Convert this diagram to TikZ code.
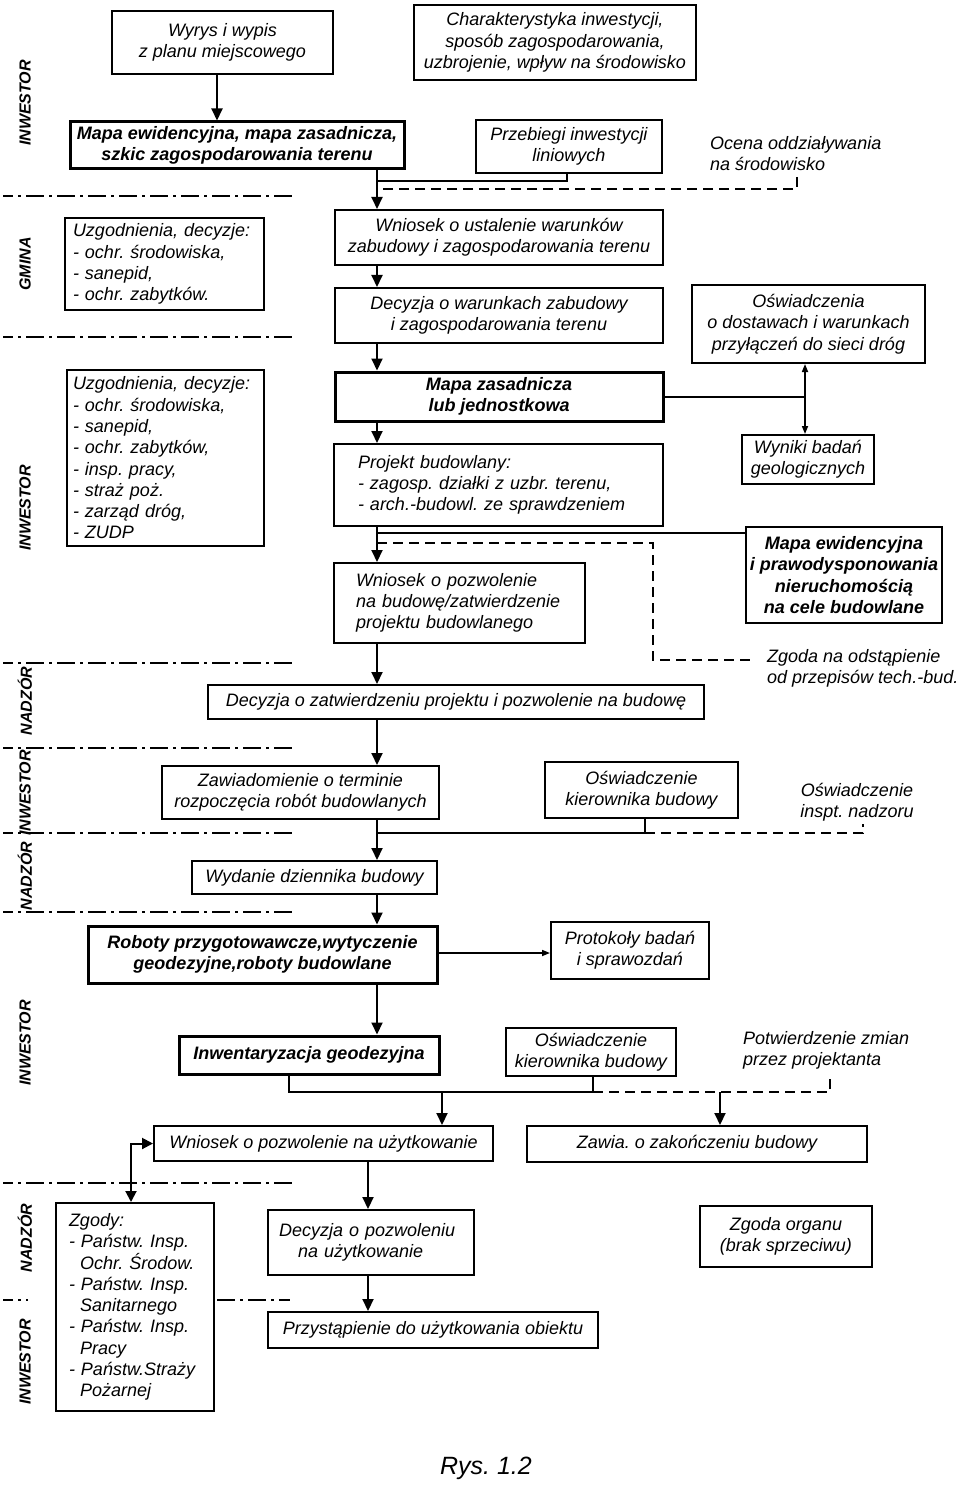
\documentclass[tikz,border=0pt]{standalone}
\usepackage{fontspec}
\setmainfont{Liberation Sans}
\usetikzlibrary{arrows.meta}
\newcommand\myfs{\fontsize{18}{21.3}\selectfont}
\frenchspacing
\begin{document}
\begin{tikzpicture}[x=1pt,y=-1pt,
  box/.style={draw, line width=2pt, inner sep=0pt, align=center, font=\myfs\itshape},
  bbox/.style={box, line width=3pt, font=\myfs\bfseries\itshape},
  txt/.style={inner sep=0pt, align=left, font=\myfs\itshape},
  lane/.style={rotate=90, inner sep=0pt, font=\fontsize{16}{16}\selectfont\bfseries\itshape},
  conn/.style={line width=2pt},
  arr/.style={conn, -{Triangle[width=11pt,length=12pt]}},
  smallarr/.style={line width=1.6pt, -{Triangle[width=6pt,length=8pt]}},
  dblsmall/.style={line width=1.6pt, {Triangle[width=6pt,length=8pt]}-{Triangle[width=6pt,length=8pt]}},
  dblarr/.style={conn, {Triangle[width=11pt,length=11pt]}-{Triangle[width=11pt,length=11pt]}},
  dline/.style={line width=2pt, dash pattern=on 10pt off 6pt},
  lanesep/.style={line width=2.8pt, dash pattern=on 18pt off 5pt on 3pt off 5pt, dash phase=8pt}
]
\fill[white] (0,0) rectangle (960,1487);
\useasboundingbox (0,0) rectangle (960,1487);

% lane separators
\foreach \yy in {196,337,663,748,833,912,1183}{
  \draw[lanesep] (3,\yy) -- (295,\yy);
}
\draw[lanesep] (3,1300) -- (28,1300);
\draw[lanesep, dash phase=0pt] (217,1300) -- (290,1300);

% lane labels
\node[lane] (l1) at (25,103) {INWESTOR};
\node[lane] (l2) at (25,264) {GMINA};
\node[lane] (l3) at (25,508) {INWESTOR};
\node[lane] (l4) at (25,701) {NADZÓR};
\node[lane] (l5) at (25,793) {INWESTOR};
\node[lane] (l6) at (25,876) {NADZÓR};
\node[lane] (l7) at (25,1043) {INWESTOR};
\node[lane] (l8) at (25,1238) {NADZÓR};
\node[lane] (l9) at (25,1362) {INWESTOR};

% nodes
\node[box, minimum width=221pt, minimum height=63pt] (wyrys) at (222.5,42.5) {Wyrys i wypis\\ z planu miejscowego};
\node[bbox, minimum width=334pt, minimum height=47pt] (mapaew) at (237,145.5) {Mapa ewidencyjna, mapa zasadnicza,\\ szkic zagospodarowania terenu};
\node[box, minimum width=282pt, minimum height=75pt] (charakt) at (555,42.5) {Charakterystyka inwestycji,\\ sposób zagospodarowania,\\ uzbrojenie, wpływ na środowisko};
\node[box, minimum width=186pt, minimum height=53pt] (przeb) at (569,146.5) {Przebiegi inwestycji\\ liniowych};
\node[txt, anchor=west] (ocena) at (710,153.5) {Ocena oddziaływania\\ na środowisko};
\node[box, minimum width=328pt, minimum height=55pt] (wniosek1) at (499,237.5) {Wniosek o ustalenie warunków\\ zabudowy i zagospodarowania terenu};
\node[box, minimum width=328pt, minimum height=55pt] (decyzja1) at (499,315.5) {Decyzja o warunkach zabudowy\\ i zagospodarowania terenu};
\node[box, minimum width=233pt, minimum height=78pt] (oswiad1) at (808.5,324) {Oświadczenia\\ o dostawach i warunkach\\ przyłączeń do sieci dróg};
\node[box, align=left, inner xsep=8pt, text width=183pt, minimum height=92pt] (uzg1) at (164.5,264) {Uzgodnienia, decyzje:\\ - ochr. środowiska,\\ - sanepid,\\ - ochr. zabytków.};
\node[bbox, minimum width=328pt, minimum height=49pt] (mapazas) at (499,396.5) {Mapa zasadnicza\\ lub jednostkowa};
\node[box, minimum width=132pt, minimum height=49pt] (wyniki) at (808,459.5) {Wyniki badań\\ geologicznych};
\node[box, align=left, inner xsep=6pt, text width=185pt, minimum height=176pt] (uzg2) at (165.5,458) {Uzgodnienia, decyzje:\\ - ochr. środowiska,\\ - sanepid,\\ - ochr. zabytków,\\ - insp. pracy,\\ - straż poż.\\ - zarząd dróg,\\ - ZUDP};
\node[box, align=left, inner xsep=24pt, text width=281pt, minimum height=82pt] (projekt) at (498.5,485) {Projekt budowlany:\\ - zagosp. działki z uzbr. terenu,\\ - arch.-budowl. ze sprawdzeniem};
\node[bbox, line width=2.5pt, minimum width=196pt, minimum height=96pt] (mapaew2) at (844,575) {Mapa ewidencyjna\\ i prawodysponowania\\ nieruchomością\\ na cele budowlane};
\node[box, align=left, inner xsep=22pt, text width=207pt, minimum height=80pt] (wniosek2) at (459.5,603) {Wniosek o pozwolenie\\ na budowę/zatwierdzenie\\ projektu budowlanego};
\node[txt, anchor=west] (zgoda) at (767,668) {Zgoda na odstąpienie\\ od przepisów tech.-bud.};
\node[box, minimum width=496pt, minimum height=34pt] (decyzja2) at (456,702) {Decyzja o zatwierdzeniu projektu i pozwolenie na budowę};
\node[box, minimum width=277pt, minimum height=53pt] (zawiad) at (300.5,792.5) {Zawiadomienie o terminie\\ rozpoczęcia robót budowlanych};
\node[box, minimum width=193pt, minimum height=56pt] (oswkier1) at (641.5,790) {Oświadczenie\\ kierownika budowy};
\node[txt, align=center] (insp) at (857,802.5) {Oświadczenie\\ inspt. nadzoru};
\node[box, minimum width=245pt, minimum height=33pt] (wydanie) at (314.5,877.5) {Wydanie dziennika budowy};
\node[bbox, minimum width=349pt, minimum height=57pt] (roboty) at (262.5,954.5) {Roboty przygotowawcze,wytyczenie\\ geodezyjne,roboty budowlane};
\node[box, minimum width=158pt, minimum height=57pt] (protok) at (630,950.5) {Protokoły badań\\ i sprawozdań};
\node[bbox, minimum width=260pt, minimum height=38pt] (inwent) at (309,1055) {Inwentaryzacja geodezyjna};
\node[box, minimum width=170pt, minimum height=48pt] (oswkier2) at (591,1052) {Oświadczenie\\ kierownika budowy};
\node[txt, anchor=west] (potw) at (743,1050.5) {Potwierdzenie zmian\\ przez projektanta};
\node[box, minimum width=339pt, minimum height=35pt] (wnuz) at (323.5,1143.5) {Wniosek o pozwolenie na użytkowanie};
\node[box, minimum width=340pt, minimum height=36pt] (zawia) at (697,1144) {Zawia. o zakończeniu budowy};
\node[box, fill=white, align=left, inner xsep=13pt, text width=132pt, minimum height=208pt] (zgody) at (135,1307) {Zgody:\\ - Państw. Insp.\\ \hspace*{11pt}Ochr. Środow.\\ - Państw. Insp.\\ \hspace*{11pt}Sanitarnego\\ - Państw. Insp.\\ \hspace*{11pt}Pracy\\ - Państw.Straży\\ \hspace*{11pt}Pożarnej};
\node[box, align=left, inner xsep=11pt, text width=184pt, minimum height=65pt] (decuz) at (371,1242.5) {Decyzja o pozwoleniu\\ \hspace*{19pt}na użytkowanie};
\node[box, minimum width=330pt, minimum height=36pt] (przyst) at (433,1330) {Przystąpienie do użytkowania obiektu};
\node[box, minimum width=172pt, minimum height=61pt] (zgodaorg) at (786,1236.5) {Zgoda organu\\ (brak sprzeciwu)};
\node[font=\fontsize{25}{25}\selectfont\itshape, inner sep=0pt] (rys) at (486,1468) {Rys. 1.2};

% helper coordinates
\coordinate (X217) at (217,0);
\coordinate (X377) at (377,0);
\coordinate (X567) at (567,0);
\coordinate (X797) at (797,0);
\coordinate (X805) at (805,0);
\coordinate (X653) at (653,0);
\coordinate (X753) at (753,0);
\coordinate (X645) at (645,0);
\coordinate (X863) at (863,0);
\coordinate (X289) at (289,0);
\coordinate (X593) at (593,0);
\coordinate (X442) at (442,0);
\coordinate (X720) at (720,0);
\coordinate (X830) at (830,0);
\coordinate (X131) at (131,0);
\coordinate (X368) at (368,0);
\coordinate (Y177) at (0,177);
\coordinate (Y181) at (0,181);
\coordinate (Y189) at (0,189);
\coordinate (Y533) at (0,533);
\coordinate (Y543) at (0,543);
\coordinate (Y660) at (0,660);
\coordinate (Y824) at (0,824);
\coordinate (Y833) at (0,833);
\coordinate (Y953) at (0,953);
\coordinate (Y1075) at (0,1075);
\coordinate (Y1092) at (0,1092);

% connectors
\draw[arr] (X217 |- wyrys.south) -- (X217 |- mapaew.north);
\draw[arr] (X377 |- mapaew.south) -- (X377 |- wniosek1.north);
\draw[conn] (X567 |- przeb.south) -- (X567 |- Y181) -- (X377 |- Y181);
\draw[dline] (X797 |- Y177) -- (X797 |- Y189) -- (X377 |- Y189);
\draw[arr] (X377 |- wniosek1.south) -- (X377 |- decyzja1.north);
\draw[arr] (X377 |- decyzja1.south) -- (X377 |- mapazas.north);
\draw[conn] (mapazas.east) -- (X805 |- mapazas.east);
\draw[dblsmall] (X805 |- oswiad1.south) -- (X805 |- wyniki.north);
\draw[arr] (X377 |- mapazas.south) -- (X377 |- projekt.north);
\draw[arr] (X377 |- projekt.south) -- (X377 |- wniosek2.north);
\draw[conn] (X377 |- Y533) -- (mapaew2.west |- Y533);
\draw[dline] (X377 |- Y543) -- (X653 |- Y543) -- (X653 |- Y660) -- (X753 |- Y660);
\draw[arr] (X377 |- wniosek2.south) -- (X377 |- decyzja2.north);
\draw[arr] (X377 |- decyzja2.south) -- (X377 |- zawiad.north);
\draw[arr] (X377 |- zawiad.south) -- (X377 |- wydanie.north);
\draw[conn] (X377 |- Y833) -- (X645 |- Y833) -- (X645 |- oswkier1.south);
\draw[dline] (X645 |- Y833) -- (X863 |- Y833) -- (X863 |- Y824);
\draw[arr] (X377 |- wydanie.south) -- (X377 |- roboty.north);
\draw[smallarr] (roboty.east |- Y953) -- (protok.west |- Y953);
\draw[arr] (X377 |- roboty.south) -- (X377 |- inwent.north);
\draw[conn] (X289 |- inwent.south) -- (X289 |- Y1092) -- (X593 |- Y1092) -- (X593 |- oswkier2.south);
\draw[arr] (X442 |- Y1092) -- (X442 |- wnuz.north);
\draw[dline] (X593 |- Y1092) -- (X830 |- Y1092) -- (X830 |- Y1075);
\draw[arr] (X720 |- Y1092) -- (X720 |- zawia.north);
\draw[dblarr] (X131 |- zgody.north) -- (X131 |- wnuz.west) -- (wnuz.west);
\draw[arr] (X368 |- wnuz.south) -- (X368 |- decuz.north);
\draw[arr] (X368 |- decuz.south) -- (X368 |- przyst.north);
\end{tikzpicture}
\end{document}
